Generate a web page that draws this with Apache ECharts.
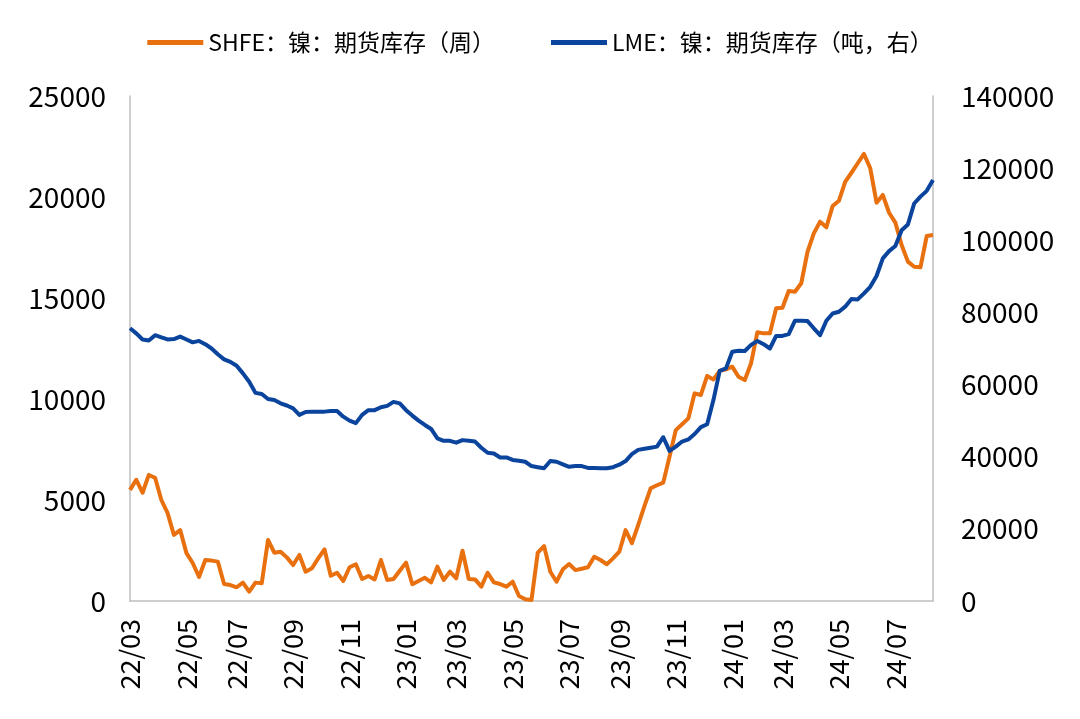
<!DOCTYPE html>
<html>
<head>
<meta charset="utf-8">
<script src="https://cdn.jsdelivr.net/npm/echarts@6/dist/echarts.min.js"></script>
<style>
  html, body { margin: 0; padding: 0; background: #fff; }
  #chart { width: 1080px; height: 719px; }
</style>
</head>
<body>
<div id="chart"></div>
<script>
// weekly observations, first one on 2022-03-04
const startDate = '2022-03-04';
const weekCount = 129;

// SHFE nickel futures stock, tons (left axis)
const shfeStock = [
  5500, 6000, 5360, 6240, 6100, 5000, 4350, 3270, 3510, 2370,
  1880, 1190, 2030, 2000, 1950, 840, 790, 680, 910, 460,
  910, 880, 3020, 2390, 2440, 2160, 1780, 2280, 1450, 1620,
  2110, 2560, 1250, 1400, 990, 1670, 1820, 1090, 1240, 1070,
  2030, 1040, 1090, 1500, 1900, 830, 990, 1150, 925, 1700,
  1040, 1450, 1120, 2490, 1090, 1070, 710, 1400, 925, 840,
  710, 955, 250, 85, 50, 2400, 2720, 1450, 955, 1570,
  1830, 1530, 1600, 1670, 2190, 2030, 1820, 2110, 2440, 3510,
  2860, 3760, 4700, 5580, 5730, 5860, 7140, 8460, 8750, 9040,
  10280, 10200, 11140, 10970, 11390, 11470, 11600, 11100, 10940, 11770,
  13300, 13250, 13250, 14490, 14520, 15350, 15310, 15730, 17290, 18200,
  18780, 18500, 19550, 19810, 20750, 21200, 21670, 22130, 21420, 19720,
  20100, 19220, 18730, 17620, 16800, 16550, 16520, 18070, 18120
];

// LME nickel stock, tons (right axis)
const lmeStock = [
  75600, 74200, 72500, 72200, 73700, 73100, 72500, 72600, 73300, 72500,
  71700, 72100, 71200, 70000, 68400, 67000, 66300, 65200, 63100, 60800,
  57700, 57400, 56000, 55700, 54800, 54200, 53400, 51600, 52400, 52500,
  52500, 52500, 52700, 52700, 51100, 50000, 49300, 51600, 52900, 52900,
  53700, 54100, 55200, 54800, 52900, 51400, 50000, 48800, 47700, 45100,
  44400, 44400, 43900, 44600, 44400, 44200, 42500, 41100, 40900, 39800,
  39800, 39100, 38900, 38600, 37400, 37100, 36800, 38800, 38600, 37900,
  37200, 37400, 37400, 36900, 36900, 36800, 36800, 37100, 37800, 38800,
  40700, 41900, 42200, 42500, 42800, 45400, 41600, 42800, 44200, 44800,
  46300, 48200, 49000, 55700, 63800, 64500, 69100, 69400, 69300, 71000,
  72100, 71200, 70000, 73500, 73500, 74000, 77700, 77700, 77600, 75600,
  73700, 77700, 79700, 80200, 81600, 83700, 83600, 85300, 87100, 90100,
  95000, 97000, 98400, 102800, 104400, 110200, 112100, 113700, 116700
];

const seriesNames = ['SHFE：镍：期货库存（周）', 'LME：镍：期货库存（吨，右）'];
const leftTicks = { min: 0, max: 25000, interval: 5000 };
const rightTicks = { min: 0, max: 140000, interval: 20000 };

function buildWeeks(start, n) {
  const out = [];
  const d0 = new Date(start + 'T00:00:00Z');
  for (let i = 0; i < n; i++) {
    const d = new Date(d0.getTime() + i * 7 * 86400000);
    out.push(d.toISOString().slice(0, 10));
  }
  return out;
}

const weeks = buildWeeks(startDate, weekCount);

// label only the first week of every odd month, like 22/03, 22/05 ...
function showLabel(idx, val) {
  const m = +val.slice(5, 7);
  const day = +val.slice(8, 10);
  return m % 2 === 1 && day <= 7;
}

const FONT = '"Noto Sans CJK SC", "Noto Sans", sans-serif';
const AXIS_GREY = '#bfbfbf';
const plain = (v) => String(v); // no thousands separator

const myChart = echarts.init(document.getElementById('chart'), null, { renderer: 'canvas' });

const option = {
  animation: false,
  backgroundColor: '#fff',
  textStyle: { fontFamily: FONT },
  legend: {
    top: 26,
    left: 'center',
    icon: 'rect',
    itemWidth: 56,
    itemHeight: 5,
    itemGap: 56,
    textStyle: { fontSize: 23, color: '#000', fontFamily: FONT },
    data: seriesNames
  },
  grid: { left: 130, right: 147, top: 96, bottom: 118 },
  xAxis: {
    type: 'category',
    data: weeks,
    boundaryGap: false,
    axisLine: { lineStyle: { color: AXIS_GREY, width: 1.5 } },
    axisTick: { show: false },
    splitLine: { show: false },
    axisLabel: {
      interval: showLabel,
      rotate: 90,
      margin: 18,
      fontSize: 27,
      color: '#000',
      fontFamily: FONT,
      formatter: (v) => v.slice(2, 4) + '/' + v.slice(5, 7)
    }
  },
  yAxis: [
    {
      type: 'value',
      min: leftTicks.min,
      max: leftTicks.max,
      interval: leftTicks.interval,
      axisLine: { show: true, lineStyle: { color: AXIS_GREY, width: 1.5 } },
      axisTick: { show: false },
      splitLine: { show: false },
      axisLabel: { fontSize: 28, color: '#000', margin: 24, fontFamily: FONT, formatter: plain }
    },
    {
      type: 'value',
      min: rightTicks.min,
      max: rightTicks.max,
      interval: rightTicks.interval,
      axisLine: { show: true, lineStyle: { color: AXIS_GREY, width: 1.5 } },
      axisTick: { show: false },
      splitLine: { show: false },
      axisLabel: { fontSize: 28, color: '#000', margin: 28, fontFamily: FONT, formatter: plain }
    }
  ],
  series: [
    {
      name: seriesNames[0],
      type: 'line',
      yAxisIndex: 0,
      data: shfeStock,
      showSymbol: false,
      symbol: 'none',
      color: '#E8700F',
      lineStyle: { width: 4, color: '#E8700F', join: 'round' },
      z: 2
    },
    {
      name: seriesNames[1],
      type: 'line',
      yAxisIndex: 1,
      data: lmeStock,
      showSymbol: false,
      symbol: 'none',
      color: '#0A449C',
      lineStyle: { width: 4, color: '#0A449C', join: 'round' },
      z: 3
    }
  ]
};

myChart.setOption(option);
</script>
</body>
</html>
